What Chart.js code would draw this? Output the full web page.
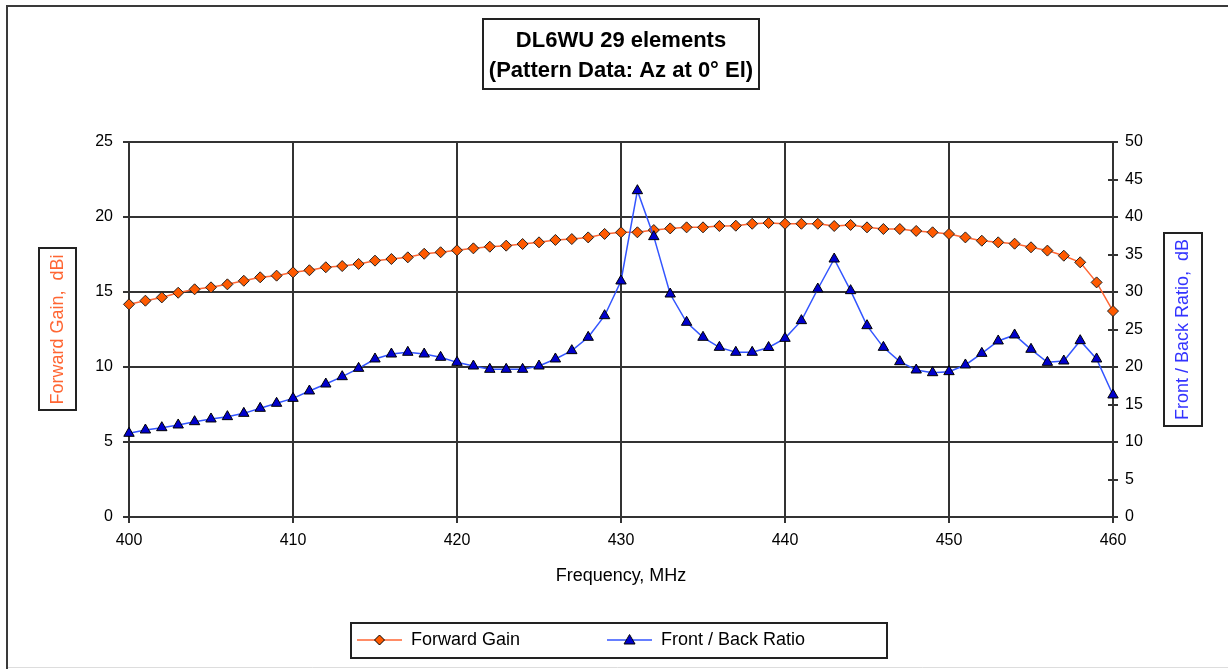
<!DOCTYPE html>
<html><head><meta charset="utf-8">
<script src="https://cdn.jsdelivr.net/npm/chart.js@4.4.1/dist/chart.umd.min.js"></script>
<style>html,body{margin:0;padding:0;background:#fff;overflow:hidden}canvas{display:block}</style>
</head><body>
<canvas id="c" width="1228" height="669"></canvas>
<script>
const frequencies = [400,401,402,403,404,405,406,407,408,409,410,411,412,413,414,415,416,417,418,419,420,421,422,423,424,425,426,427,428,429,430,431,432,433,434,435,436,437,438,439,440,441,442,443,444,445,446,447,448,449,450,451,452,453,454,455,456,457,458,459,460];
const forwardGain = [14.18,14.42,14.64,14.95,15.18,15.31,15.51,15.75,15.98,16.09,16.31,16.45,16.65,16.73,16.87,17.09,17.2,17.31,17.55,17.65,17.78,
  17.91,18.02,18.09,18.2,18.31,18.47,18.53,18.64,18.87,18.98,18.98,19.13,19.24,19.31,19.31,19.4,19.42,19.55,19.6,
  19.55,19.55,19.55,19.4,19.47,19.31,19.2,19.2,19.07,18.98,18.87,18.64,18.42,18.31,18.22,17.98,17.76,17.42,16.98,15.64,13.73];
const frontBackRatio = [11.16,11.6,11.91,12.27,12.71,13.07,13.38,13.82,14.49,15.16,15.82,16.8,17.73,18.71,19.82,21.07,21.73,21.96,21.73,21.29,20.62,
  20.13,19.69,19.69,19.69,20.13,21.07,22.18,23.96,26.84,31.47,43.51,37.38,29.73,25.96,23.96,22.62,21.96,21.96,22.6,
  23.82,26.18,30.4,34.4,30.18,25.51,22.62,20.71,19.6,19.24,19.38,20.27,21.82,23.47,24.27,22.36,20.62,20.8,23.51,21.07,16.27];
const titleLines = ['DL6WU 29 elements', '(Pattern Data: Az at 0° El)'];
const seriesNames = ['Forward Gain', 'Front / Back Ratio'];
const xTitle = 'Frequency, MHz';
const leftTitle = 'Forward Gain,  dBi';
const rightTitle = 'Front / Back Ratio,  dB';

const FONT = '"Liberation Sans", Arial, sans-serif';
Chart.defaults.font.family = FONT;
Chart.defaults.color = '#000';

const ORANGE_LINE = '#FF6633', ORANGE_FILL = '#FF5A00';
const BLUE_LINE = '#3355FF', BLUE_FILL = '#0000CC';
const GRID = '#333';

function makeIcon(lineColor, fill, shape) {
  const c = document.createElement('canvas');
  c.width = 45; c.height = 14;
  const g = c.getContext('2d');
  g.strokeStyle = lineColor; g.lineWidth = 1.5;
  g.beginPath(); g.moveTo(0, 7); g.lineTo(45, 7); g.stroke();
  g.fillStyle = fill; g.strokeStyle = '#000'; g.lineWidth = 1;
  g.beginPath();
  if (shape === 'diamond') { g.moveTo(22.5, 2); g.lineTo(27.5, 7); g.lineTo(22.5, 12); g.lineTo(17.5, 7); }
  else { g.moveTo(22.5, 1.5); g.lineTo(28, 11); g.lineTo(17, 11); }
  g.closePath(); g.fill(); g.stroke();
  return c;
}
const icons = [makeIcon(ORANGE_LINE, ORANGE_FILL, 'diamond'), makeIcon(BLUE_LINE, BLUE_FILL, 'triangle')];

const decor = {
  id: 'decor',
  afterLayout(chart) {
    const L = chart.legend;
    if (!L) return;
    L.left = 270; L.right = 1228; L.top = 544; L.bottom = 669;
    L.width = L.right - L.left; L.height = L.bottom - L.top;
  },
  beforeDraw(chart) {
    const ctx = chart.ctx;
    ctx.save();
    ctx.fillStyle = '#fff'; ctx.fillRect(0, 0, chart.width, chart.height);
    ctx.strokeStyle = '#ddd'; ctx.lineWidth = 1;
    ctx.beginPath(); ctx.moveTo(7, 667.5); ctx.lineTo(1228, 667.5); ctx.stroke();
    ctx.strokeStyle = '#3a3a3a'; ctx.lineWidth = 2;
    ctx.beginPath(); ctx.moveTo(1228, 6); ctx.lineTo(7, 6); ctx.lineTo(7, 669); ctx.stroke();
    ctx.restore();
  },
  afterDraw(chart) {
    const ctx = chart.ctx;
    ctx.save();
    ctx.strokeStyle = '#222'; ctx.lineWidth = 2;
    // title box
    const tb = chart.titleBlock;
    ctx.font = 'bold 22px ' + FONT;
    const tw = Math.max(...titleLines.map(t => ctx.measureText(t).width));
    const tcx = (tb.left + tb.right) / 2;
    ctx.strokeRect(Math.round(tcx - tw / 2 - 6), tb.top + 19, Math.round(tw + 12), 70);
    // left axis title box
    ctx.font = '18px ' + FONT;
    const lw = ctx.measureText(leftTitle).width;
    const ys = chart.scales.y;
    const lcy = (ys.top + ys.bottom) / 2;
    ctx.strokeRect(39, Math.round(lcy - lw / 2 - 6), 37, Math.round(lw + 12));
    // right axis title (reads bottom-to-top) and box
    const rw = ctx.measureText(rightTitle).width;
    const rcx = 1183, rcy = (ys.top + ys.bottom) / 2;
    ctx.strokeRect(1164, Math.round(rcy - rw / 2 - 6), 38, Math.round(rw + 12));
    ctx.save();
    ctx.translate(rcx, rcy); ctx.rotate(-Math.PI / 2);
    ctx.fillStyle = '#3333FF'; ctx.textAlign = 'center'; ctx.textBaseline = 'middle';
    ctx.fillText(rightTitle, 0, 0);
    ctx.restore();
    // right axis inward tick marks
    const s = chart.scales.y1;
    ctx.strokeStyle = GRID; ctx.lineWidth = 2;
    s.ticks.forEach(t => {
      const y = Math.round(s.getPixelForValue(t.value));
      ctx.beginPath(); ctx.moveTo(s.left - 5, y); ctx.lineTo(s.left, y); ctx.stroke();
    });
    // legend box
    const L = chart.legend;
    if (L && L.legendHitBoxes && L.legendHitBoxes.length === 2) {
      const h0 = L.legendHitBoxes[0], h1 = L.legendHitBoxes[1];
      const cy = h0.top + h0.height / 2;
      ctx.strokeStyle = '#222'; ctx.lineWidth = 2;
      ctx.strokeRect(Math.round(h0.left - 6), Math.round(cy - 17), Math.round(h1.left + h1.width + 82 - (h0.left - 6)), 35);
    }
    ctx.restore();
  }
};

new Chart(document.getElementById('c'), {
  type: 'line',
  data: {
    datasets: [
      {
        label: seriesNames[0], yAxisID: 'y', order: 1,
        data: frequencies.map((f, i) => ({ x: f, y: forwardGain[i] })),
        borderColor: ORANGE_LINE, borderWidth: 1.5, backgroundColor: ORANGE_FILL,
        pointStyle: 'rectRot', pointRadius: 5.5, pointBackgroundColor: ORANGE_FILL,
        pointBorderColor: '#222', pointBorderWidth: 1, tension: 0, clip: 10
      },
      {
        label: seriesNames[1], yAxisID: 'y1', order: 0,
        data: frequencies.map((f, i) => ({ x: f, y: frontBackRatio[i] })),
        borderColor: BLUE_LINE, borderWidth: 1.5, backgroundColor: BLUE_FILL,
        pointStyle: 'triangle', pointRadius: 6, pointBackgroundColor: BLUE_FILL,
        pointBorderColor: '#000', pointBorderWidth: 1, tension: 0, clip: 10
      }
    ]
  },
  options: {
    responsive: false, animation: false, devicePixelRatio: 1,
    layout: { padding: { left: 14, right: 0, top: 0, bottom: 0 } },
    plugins: {
      tooltip: { enabled: false },
      title: {
        display: true, text: titleLines, color: '#000',
        font: { family: FONT, size: 22, weight: 'bold', lineHeight: '30px' },
        padding: { top: 26, bottom: 56 }
      },
      legend: {
        position: 'bottom', align: 'start', maxHeight: 60,
        labels: {
          usePointStyle: true, pointStyleWidth: 45, padding: 87,
          font: { family: FONT, size: 18 }, color: '#000',
          generateLabels: (chart) => chart.data.datasets.map((ds, i) => ({
            text: ds.label, pointStyle: icons[i], fillStyle: ds.backgroundColor,
            strokeStyle: ds.borderColor, lineWidth: 0, hidden: false, datasetIndex: i, fontColor: '#000'
          }))
        }
      }
    },
    scales: {
      x: {
        type: 'linear', min: 400, max: 460,
        ticks: { stepSize: 10, font: { size: 16 }, padding: 8, maxRotation: 0, color: '#000' },
        grid: { color: GRID, lineWidth: 2, tickLength: 6 },
        border: { color: GRID, width: 2 },
        title: { display: true, text: xTitle, color: '#000', font: { size: 18 }, padding: { top: 0, bottom: 22 } },
        afterFit: (s) => { s.height = 92; }
      },
      y: {
        position: 'left', min: 0, max: 25,
        ticks: { stepSize: 5, font: { size: 16 }, padding: 10, color: '#000' },
        grid: { color: GRID, lineWidth: 2, tickLength: 6 },
        border: { color: GRID, width: 2 },
        title: { display: true, text: leftTitle, color: '#FF6633', font: { size: 18 }, padding: { top: 33, bottom: 0 } },
        afterFit: (s) => { s.width = 115; }
      },
      y1: {
        position: 'right', min: 0, max: 50,
        ticks: { stepSize: 5, font: { size: 16 }, padding: 7, color: '#000' },
        grid: { drawOnChartArea: false, color: GRID, lineWidth: 2, tickLength: 5 },
        border: { color: GRID, width: 2 },
        title: { display: false },
        afterFit: (s) => { s.width = 115; }
      }
    }
  },
  plugins: [decor]
});
</script>
</body></html>
